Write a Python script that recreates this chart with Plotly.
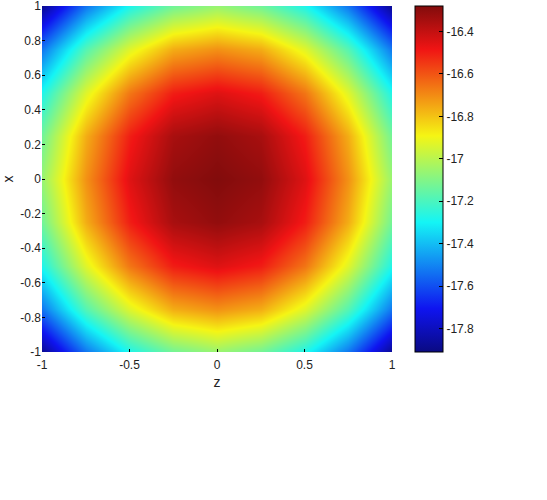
import plotly.graph_objects as go

# grid coordinates (z along horizontal, x along vertical)
z_coords = [-1.0, -0.75, -0.5, -0.25, 0.0, 0.25, 0.5, 0.75, 1.0]
x_coords = [-1.0, -0.75, -0.5, -0.25, 0.0, 0.25, 0.5, 0.75, 1.0]

# field values (rows follow x_coords, columns follow z_coords)
row_edge = [-17.88, -17.53, -17.28, -17.13, -17.06, -17.13, -17.28, -17.53, -17.88]
row_075 = [-17.53, -17.18, -16.93, -16.76, -16.71, -16.76, -16.93, -17.18, -17.53]
row_050 = [-17.28, -16.93, -16.66, -16.50, -16.45, -16.50, -16.66, -16.93, -17.28]
row_025 = [-17.13, -16.76, -16.50, -16.35, -16.31, -16.35, -16.50, -16.76, -17.13]
row_000 = [-17.06, -16.71, -16.45, -16.31, -16.28, -16.31, -16.45, -16.71, -17.06]
values = [row_edge, row_075, row_050, row_025, row_000, row_025, row_050, row_075, row_edge]

x_ticks = [-1, -0.8, -0.6, -0.4, -0.2, 0, 0.2, 0.4, 0.6, 0.8, 1]
z_ticks = [-1, -0.5, 0, 0.5, 1]
cb_ticks = [-17.8, -17.6, -17.4, -17.2, -17.0, -16.8, -16.6, -16.4]
cb_labels = ["-17.8", "-17.6", "-17.4", "-17.2", "-17", "-16.8", "-16.6", "-16.4"]

jet = [
    [0.0, "rgb(10,10,130)"],
    [0.125, "rgb(15,20,240)"],
    [0.375, "rgb(20,245,245)"],
    [0.625, "rgb(245,245,20)"],
    [0.875, "rgb(240,20,20)"],
    [1.0, "rgb(130,12,12)"],
]

fig = go.Figure(
    go.Heatmap(
        x=z_coords,
        y=x_coords,
        z=values,
        zsmooth="best",
        colorscale=jet,
        zmin=-17.91,
        zmax=-16.28,
        colorbar=dict(
            x=(415 - 42) / 350,
            xanchor="left",
            xpad=0,
            ypad=0,
            thickness=28,
            thicknessmode="pixels",
            lenmode="fraction",
            len=1.0,
            y=0.5,
            yanchor="middle",
            outlinecolor="black",
            outlinewidth=1,
            tickvals=cb_ticks,
            ticktext=cb_labels,
            ticks="inside",
            ticklen=4,
            tickcolor="black",
            tickfont=dict(family="Liberation Sans, Arial", size=12, color="#222"),
        ),
    )
)

fig.update_layout(
    width=547,
    height=500,
    margin=dict(l=42, r=155, t=6, b=148, autoexpand=False),
    paper_bgcolor="white",
    plot_bgcolor="white",
    font=dict(family="Liberation Sans, Arial", size=12, color="#222"),
    xaxis=dict(
        range=[-1, 1],
        tickvals=z_ticks,
        ticktext=["-1", "-0.5", "0", "0.5", "1"],
        ticks="inside",
        ticklen=3,
        tickcolor="black",
        showgrid=False,
        zeroline=False,
        automargin=False,
        ticklabeloverflow="allow",
        ticklabelstandoff=4,
        title=dict(text="z", standoff=6),
    ),
    yaxis=dict(
        range=[-1, 1],
        tickvals=x_ticks,
        ticktext=["-1", "-0.8", "-0.6", "-0.4", "-0.2", "0", "0.2", "0.4", "0.6", "0.8", "1"],
        ticks="inside",
        ticklen=3,
        tickcolor="black",
        showgrid=False,
        zeroline=False,
        automargin=False,
        ticklabeloverflow="allow",
        title=dict(text="x", standoff=6),
    ),
)

fig.write_html(
    "out.html",
    config={"displayModeBar": False},
    post_script="document.body.style.margin='0';document.body.style.padding='0';",
)
